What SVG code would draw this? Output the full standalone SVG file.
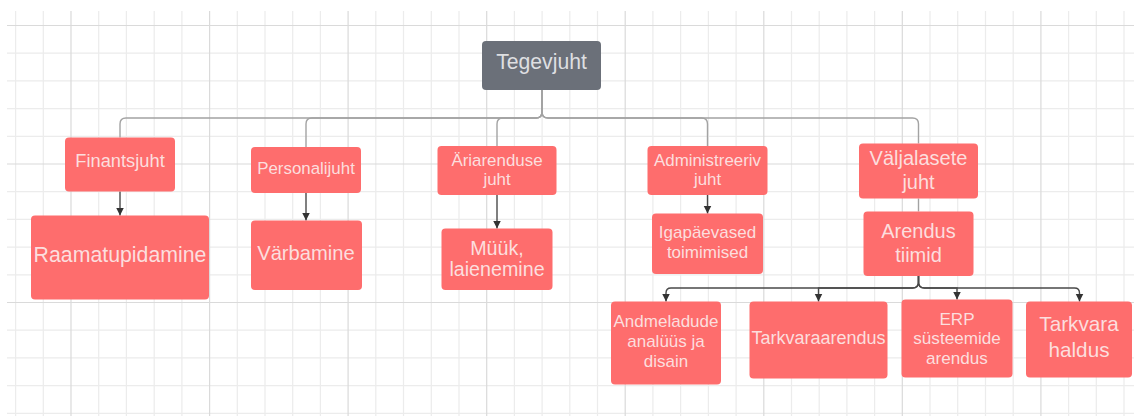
<svg xmlns="http://www.w3.org/2000/svg" width="1134" height="416" viewBox="0 0 1134 416">
<style>
.minor{stroke:#ececec;stroke-width:1.2;fill:none}
.major{stroke:#dadada;stroke-width:1.2;fill:none}
.box{fill:#fe6d6d}
.boss{fill:#6b7079}
.t{font-family:"Liberation Sans",Arial,sans-serif;fill:#fcdede;text-anchor:middle}
.tb{font-family:"Liberation Sans",Arial,sans-serif;fill:#dedfe1;text-anchor:middle}
.c1{stroke:#a3a3a3;stroke-width:1.4;fill:none}
.c2{stroke:#4a4a4a;stroke-width:1.4;fill:none}
</style>
<defs>
<marker id="arr" markerUnits="userSpaceOnUse" markerWidth="9" markerHeight="9" refX="8" refY="4" orient="auto">
<path d="M0,0 L8,4 L0,8 z" fill="#333"/>
</marker>
</defs>
<rect width="1134" height="416" fill="#ffffff"/>
<g id="grid">
<path class="minor" d="M15.6,11V416M43.3,11V416M98.7,11V416M126.4,11V416M154.2,11V416M181.9,11V416M237.3,11V416M265,11V416M292.7,11V416M320.4,11V416M375.8,11V416M403.5,11V416M431.3,11V416M459,11V416M514.4,11V416M542.1,11V416M569.8,11V416M597.5,11V416M652.9,11V416M680.6,11V416M708.4,11V416M736.1,11V416M791.5,11V416M819.2,11V416M846.9,11V416M874.6,11V416M930,11V416M957.7,11V416M985.5,11V416M1013.2,11V416M1068.6,11V416M1096.3,11V416M1124,11V416
M7,53.2H1134M7,80.9H1134M7,108.6H1134M7,136.3H1134M7,191.7H1134M7,219.4H1134M7,247.1H1134M7,274.8H1134M7,330.2H1134M7,357.9H1134M7,385.6H1134M7,413.3H1134"/>
<path class="major" d="M71,11V416M209.6,11V416M348.1,11V416M486.7,11V416M625.2,11V416M763.8,11V416M902.3,11V416M1040.9,11V416M7,25.5H1134M7,164H1134M7,302.5H1134"/>
</g>
<g id="connectors">
<path class="c1" d="M542,90V112Q542,118 536,118H126Q120,118 120,124V137.5"/>
<path class="c1" d="M542,90V112Q542,118 536,118H312Q306,118 306,124V147"/>
<path class="c1" d="M542,90V112Q542,118 536,118H503Q497,118 497,124V146"/>
<path class="c1" d="M542,90V112Q542,118 548,118H701.5Q707.5,118 707.5,124V146"/>
<path class="c1" d="M542,90V112Q542,118 548,118H912.5Q918.5,118 918.5,124V143.5"/>
<path class="c2" d="M120,191.5V215.5" marker-end="url(#arr)"/>
<path class="c2" d="M306,193V220.5" marker-end="url(#arr)"/>
<path class="c2" d="M497,195V228.5" marker-end="url(#arr)"/>
<path class="c2" d="M707.5,195V213.5" marker-end="url(#arr)"/>
<path class="c1" d="M918.5,198.5V211.5"/>
<path class="c2" d="M918.5,276V282Q918.5,288 912.5,288H671Q666,288 666,293V301.5" marker-end="url(#arr)"/>
<path class="c2" d="M918.5,276V282Q918.5,288 912.5,288H818.5V301.5" marker-end="url(#arr)"/>
<path class="c2" d="M918.5,276V282Q918.5,288 924.5,288H957V299.5" marker-end="url(#arr)"/>
<path class="c2" d="M918.5,276V282Q918.5,288 924.5,288H1074.5Q1079.5,288 1079.5,293V301.5" marker-end="url(#arr)"/>
</g>
<g id="n-tegevjuht"><rect class="boss" x="482" y="41" width="119" height="49" rx="4"/><text class="tb" x="541.5" y="68.5" font-size="21.2">Tegevjuht</text></g>
<g id="n-finantsjuht"><rect class="box" x="65" y="137.5" width="110" height="54" rx="4"/><text class="t" x="120" y="167.3" font-size="18.3">Finantsjuht</text></g>
<g id="n-personalijuht"><rect class="box" x="251" y="147" width="110" height="46" rx="4"/><text class="t" x="306" y="173.5" font-size="16.9">Personalijuht</text></g>
<g id="n-ariarenduse"><rect class="box" x="437.5" y="146" width="119" height="49" rx="4"/><text class="t" x="497" y="166" font-size="16.9">Äriarenduse</text><text class="t" x="497" y="185" font-size="16.9">juht</text></g>
<g id="n-administreeriv"><rect class="box" x="647.5" y="146" width="120" height="49" rx="4"/><text class="t" x="707.5" y="166.3" font-size="16.9">Administreeriv</text><text class="t" x="707.5" y="185" font-size="16.9">juht</text></g>
<g id="n-valjalasete"><rect class="box" x="859" y="143.5" width="119" height="55" rx="4"/><text class="t" x="918.5" y="165" font-size="20">Väljalasete</text><text class="t" x="918.5" y="188.5" font-size="20">juht</text></g>
<g id="n-raamatupidamine"><rect class="box" x="31" y="215.5" width="178" height="84" rx="4"/><text class="t" x="120" y="262" font-size="21.3">Raamatupidamine</text></g>
<g id="n-varbamine"><rect class="box" x="251" y="220.5" width="111" height="69.5" rx="4"/><text class="t" x="306" y="259.5" font-size="20.2">Värbamine</text></g>
<g id="n-muuk"><rect class="box" x="441.5" y="228.5" width="111" height="61.5" rx="4"/><text class="t" x="497" y="254.5" font-size="19.7">Müük,</text><text class="t" x="497" y="276" font-size="19.7">laienemine</text></g>
<g id="n-igapaevased"><rect class="box" x="652" y="213.5" width="111" height="60.5" rx="4"/><text class="t" x="707.5" y="238" font-size="17">Igapäevased</text><text class="t" x="707.5" y="257.5" font-size="17">toimimised</text></g>
<g id="n-arendus"><rect class="box" x="863.5" y="211.5" width="110" height="64.5" rx="4"/><text class="t" x="918.5" y="238" font-size="20">Arendus</text><text class="t" x="918.5" y="262" font-size="20">tiimid</text></g>
<g id="n-andmeladude"><rect class="box" x="611" y="301.5" width="110" height="83" rx="4"/><text class="t" x="666" y="326.5" font-size="17">Andmeladude</text><text class="t" x="666" y="346.5" font-size="17">analüüs ja</text><text class="t" x="666" y="366.5" font-size="17">disain</text></g>
<g id="n-tarkvaraarendus"><rect class="box" x="749.5" y="301.5" width="138" height="77" rx="4"/><text class="t" x="818.5" y="344" font-size="18">Tarkvaraarendus</text></g>
<g id="n-erp"><rect class="box" x="901.5" y="299.5" width="111" height="78" rx="4"/><text class="t" x="957" y="324.5" font-size="17.1">ERP</text><text class="t" x="957" y="344" font-size="17.1">süsteemide</text><text class="t" x="957" y="364" font-size="17.1">arendus</text></g>
<g id="n-tarkvarahaldus"><rect class="box" x="1026" y="301.5" width="106" height="76" rx="4"/><text class="t" x="1079" y="331" font-size="20.7">Tarkvara</text><text class="t" x="1079" y="356.5" font-size="20.7">haldus</text></g>
</svg>
